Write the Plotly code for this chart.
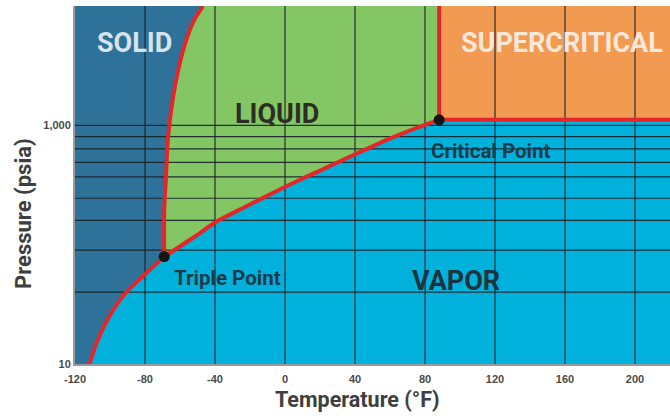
import plotly.graph_objects as go

# ---- data ----
sublimation_T = [-111.7, -107.0, -99.4, -90.8, -80.4, -69.0]
sublimation_P = [10, 15.9, 26.6, 39.9, 55.7, 79.4]
melting_T = [-69.0, -69.0, -68.0, -67.1, -66.2, -64.2, -61.4, -57.6, -51.9, -46.8]
melting_P = [79.4, 195, 372, 708, 975, 1633, 2735, 4570, 7640, 10000]
vapor_T = [-69.0, -51.9, -39.5, -23.4, -8.2, 8.9, 22.2, 41.2, 60.2, 79.2, 88.1]
vapor_P = [79.4, 116, 155, 205, 266, 352, 432, 582, 778, 1000, 1112]
triple_T, triple_P = -69.0, 79.4
critical_T, critical_P = 88.1, 1112
T_min, T_max = -120, 220
P_min, P_max = 10, 10000
x_tick_vals = [-120, -80, -40, 0, 40, 80, 120, 160, 200]
x_tick_text = ["-120", "-80", "-40", "0", "40", "80", "120", "160", "200"]
y_tick_vals = [10, 1000]
y_tick_text = ["10", "1,000"]
y_grid_vals = [40, 90, 160, 245, 370, 490, 635, 805, 1000]

# ---- colours ----
C_SOLID = "#2E7199"
C_LIQUID = "#83C663"
C_VAPOR = "#00B1DC"
C_SUPER = "#F39A52"
C_RED = "#E4262B"
C_GRID = "rgba(22,32,38,0.9)"
FONT = "Roboto, Liberation Sans, sans-serif"

fig = go.Figure()

# solid region
sx = [T_min, T_min] + melting_T[::-1] + sublimation_T[::-1][1:]
sy = [P_min, P_max] + melting_P[::-1] + sublimation_P[::-1][1:]
fig.add_trace(go.Scatter(x=sx, y=sy, fill="toself", fillcolor=C_SOLID,
                         mode="none", hoverinfo="skip", showlegend=False))
# liquid region
lx = melting_T + [critical_T] + vapor_T[::-1]
ly = melting_P + [P_max] + vapor_P[::-1]
fig.add_trace(go.Scatter(x=lx, y=ly, fill="toself", fillcolor=C_LIQUID,
                         mode="none", hoverinfo="skip", showlegend=False))
# supercritical region
fig.add_trace(go.Scatter(x=[critical_T, T_max, T_max, critical_T],
                         y=[P_max, P_max, critical_P, critical_P],
                         fill="toself", fillcolor=C_SUPER,
                         mode="none", hoverinfo="skip", showlegend=False))

# grid lines (drawn above fills)
gx, gy = [], []
for t in x_tick_vals[1:]:
    gx += [t, t, None]
    gy += [P_min, P_max, None]
for p in y_grid_vals:
    gx += [T_min, T_max, None]
    gy += [p, p, None]
fig.add_trace(go.Scatter(x=gx, y=gy, mode="lines",
                         line=dict(color=C_GRID, width=1.2),
                         hoverinfo="skip", showlegend=False))

# phase boundaries (smooth curves)
for xs, ys in [(sublimation_T, sublimation_P), (melting_T, melting_P),
               (vapor_T, vapor_P)]:
    fig.add_trace(go.Scatter(x=xs, y=ys, mode="lines",
                             line=dict(color=C_RED, width=4, shape="spline",
                                       smoothing=0.8),
                             hoverinfo="skip", showlegend=False))
# supercritical boundaries
for xs, ys in [([critical_T, critical_T], [critical_P, P_max]),
               ([critical_T, T_max], [critical_P, critical_P])]:
    fig.add_trace(go.Scatter(x=xs, y=ys, mode="lines",
                             line=dict(color=C_RED, width=4),
                             hoverinfo="skip", showlegend=False))

# triple & critical points
fig.add_trace(go.Scatter(x=[triple_T, critical_T], y=[triple_P, critical_P],
                         mode="markers",
                         marker=dict(color="#151515", size=11),
                         hoverinfo="skip", showlegend=False))

def ann(text, x, y, size, color, xanchor="center", angle=0):
    fig.add_annotation(text=text, x=x, y=y, xref="paper", yref="paper",
                       xanchor=xanchor, yanchor="middle", showarrow=False,
                       textangle=angle,
                       font=dict(family=FONT, size=size, color=color, weight="bold"))

ann("SOLID", 0.100, 0.897, 27, "rgba(232,240,246,0.92)")
ann("SUPERCRITICAL", 0.8188, 0.897, 27, "rgba(253,238,226,0.95)")
ann("LIQUID", 0.339, 0.699, 27, "#2C2D25")
ann("VAPOR", 0.640, 0.233, 27, "#1C3440")
ann("Triple Point", 0.163, 0.239, 20.5, "#1C3A48", xanchor="left")
ann("Critical Point", 0.5955, 0.594, 20.5, "#1C3A48", xanchor="left")
ann("Pressure (psia)", -0.0857, 0.419, 22, "#3E3E3E", angle=-90)
ann("Temperature (°F)", 0.4748, -0.100, 21.5, "#3E3E3E")

tick_font = dict(family="Liberation Sans, Arial, sans-serif",
                 size=11, color="#4A4A4A", weight="bold")
fig.update_layout(
    width=670, height=416,
    margin=dict(l=75, r=0, t=6, b=52),
    plot_bgcolor=C_VAPOR, paper_bgcolor="white",
    xaxis=dict(range=[T_min, T_max], tickvals=x_tick_vals, ticktext=x_tick_text,
               showgrid=False, zeroline=False, showline=True,
               linecolor="#9A9A9A", linewidth=2, ticks="",
               ticklabelstandoff=4, tickfont=tick_font),
    yaxis=dict(type="log", range=[1, 4], tickvals=y_tick_vals, ticktext=y_tick_text,
               showgrid=False, zeroline=False, showline=True,
               linecolor="#9A9A9A", linewidth=2, ticks="",
               tickfont=tick_font),
)

fig.write_html("out.html", config={"displayModeBar": False},
               post_script="document.body.style.margin='0';")
